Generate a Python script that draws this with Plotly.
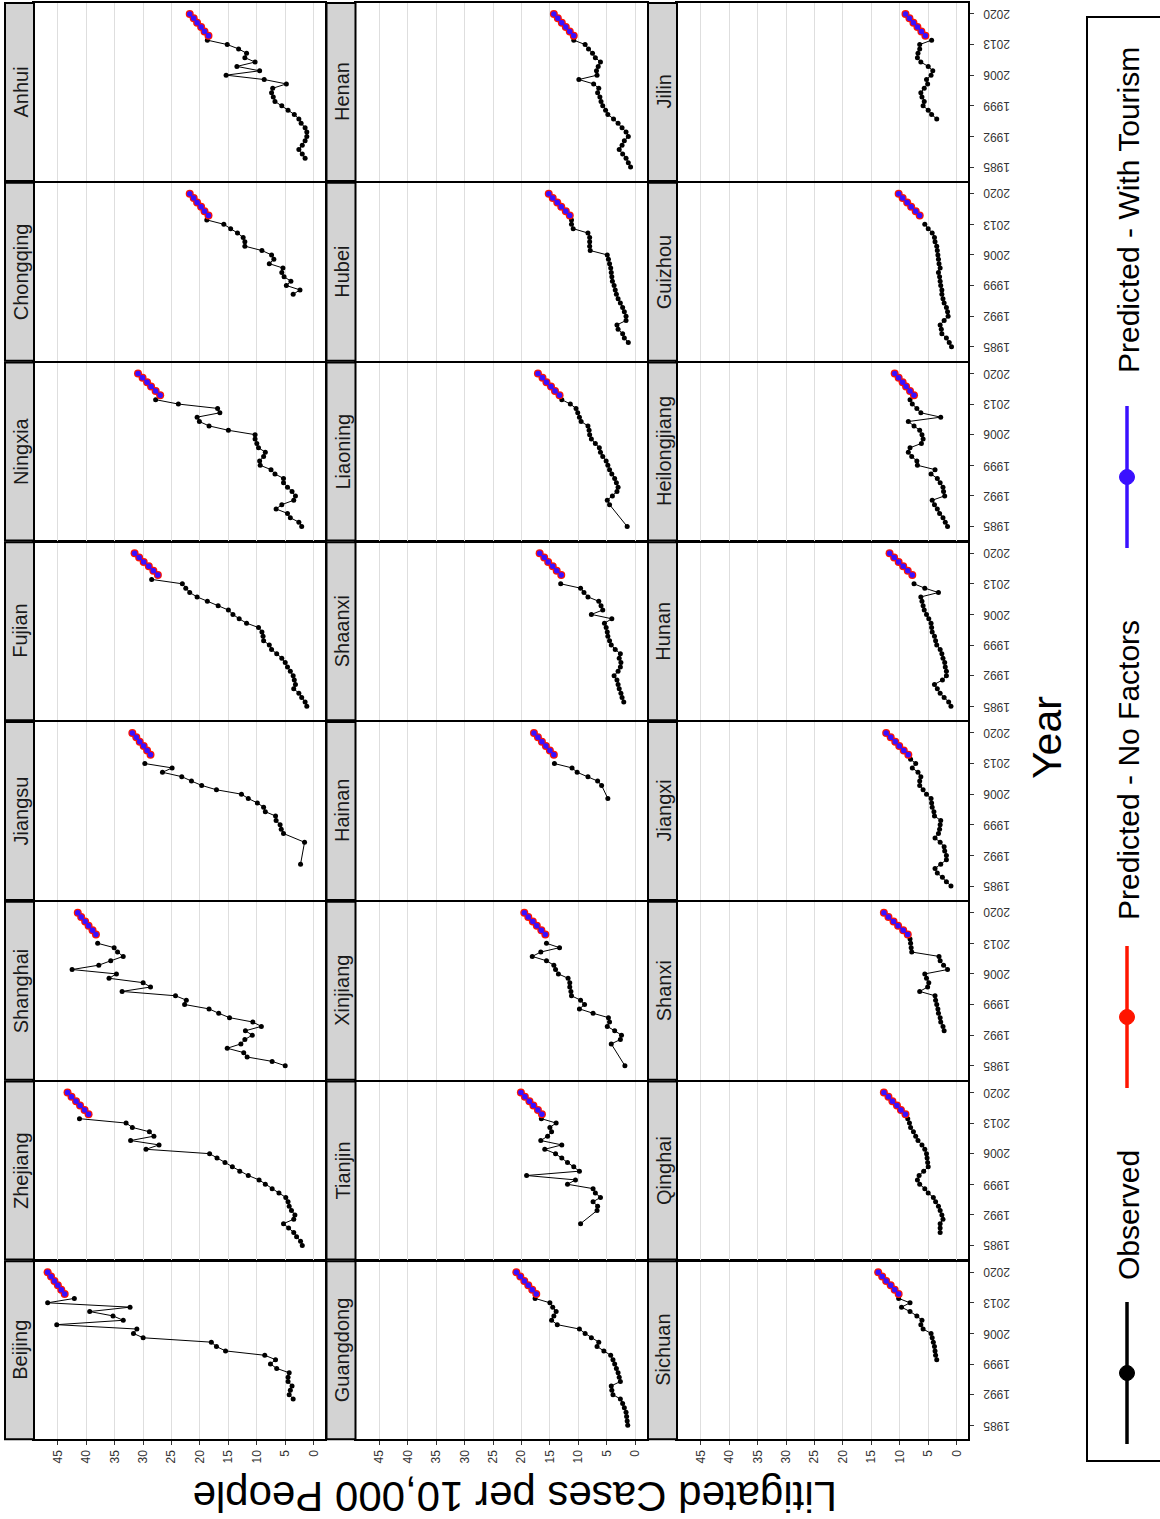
import plotly.graph_objects as go

# ---------------- data ----------------
PRED_YEARS = [2015, 2016, 2017, 2018, 2019, 2020]
YEAR_TICKS = [1985, 1992, 1999, 2006, 2013, 2020]
VALUE_TICKS = [0, 5, 10, 15, 20, 25, 30, 35, 40, 45]

FACETS = ["Beijing", "Zhejiang", "Shanghai", "Jiangsu", "Fujian", "Ningxia", "Chongqing", "Anhui",
          "Guangdong", "Tianjin", "Xinjiang", "Hainan", "Shaanxi", "Liaoning", "Hubei", "Henan",
          "Sichuan", "Qinghai", "Shanxi", "Jiangxi", "Hunan", "Heilongjiang", "Guizhou", "Jilin"]

beijing_years = list(range(1991, 2015))
beijing_obs = [3.6, 4.3, 4.1, 3.8, 4.5, 4.5, 4.3, 6.5, 7.6, 6.7, 8.6, 15.5, 17.1, 18.0, 30.0, 31.7,
               31.1, 45.2, 33.5, 35.3, 39.4, 32.3, 46.8, 42.1]
beijing_nf = [43.8, 44.4, 45.0, 45.6, 46.2, 46.8]
beijing_wt = [43.8, 44.4, 45.0, 45.6, 46.2, 46.8]

zhejiang_years = list(range(1985, 2015))
zhejiang_obs = [2.0, 2.3, 3.0, 3.5, 4.4, 5.3, 3.5, 3.3, 3.9, 4.3, 4.5, 4.9, 6.1, 7.3, 8.5, 9.6, 11.5,
                13.0, 14.3, 15.6, 17.0, 18.3, 29.5, 27.2, 32.2, 28.1, 28.9, 31.9, 33.0, 41.2]
zhejiang_nf = [39.6, 40.3, 41.1, 41.8, 42.6, 43.3]
zhejiang_wt = [39.6, 40.3, 41.1, 41.8, 42.6, 43.3]

shanghai_years = list(range(1985, 2014))
shanghai_obs = [5.0, 7.3, 11.7, 12.3, 15.2, 12.8, 12.1, 10.8, 12.0, 9.2, 10.7, 14.8, 16.7, 18.4, 22.7,
                22.4, 24.3, 33.7, 28.7, 30.0, 36.0, 34.7, 42.5, 37.8, 35.7, 33.5, 34.5, 35.1, 38.0]
shanghai_nf = [38.3, 38.9, 39.6, 40.2, 40.9, 41.5]
shanghai_wt = [38.3, 38.9, 39.6, 40.2, 40.9, 41.5]

jiangsu_years = [1990, 1995] + list(range(1997, 2014))
jiangsu_obs = [2.3, 1.6, 5.3, 5.7, 5.9, 6.6, 6.7, 8.5, 8.8, 9.9, 11.5, 12.7, 17.1, 19.7, 21.5, 23.2,
               26.6, 24.9, 29.7]
jiangsu_nf = [28.7, 29.3, 29.9, 30.6, 31.2, 31.9]
jiangsu_wt = [28.7, 29.3, 29.9, 30.6, 31.2, 31.9]

fujian_years = list(range(1985, 2015))
fujian_obs = [1.2, 1.5, 2.1, 2.6, 3.5, 3.2, 3.4, 3.6, 4.1, 4.6, 5.0, 5.6, 6.5, 7.4, 7.8, 8.8, 8.9,
              9.1, 9.7, 11.8, 13.1, 14.2, 15.0, 16.8, 18.7, 20.5, 21.8, 22.5, 23.1, 28.5]
fujian_nf = [27.4, 28.2, 29.0, 29.9, 30.7, 31.5]
fujian_wt = [27.4, 28.2, 29.0, 29.9, 30.7, 31.5]

ningxia_years = list(range(1985, 2015))
ningxia_obs = [2.1, 2.6, 4.1, 4.6, 6.6, 5.6, 3.5, 3.2, 3.8, 4.6, 5.3, 5.3, 6.8, 7.5, 9.4, 9.5, 8.8,
               8.5, 9.7, 10.0, 10.3, 10.3, 15.0, 18.4, 20.1, 20.5, 16.5, 16.9, 23.8, 27.8]
ningxia_nf = [27.0, 27.8, 28.6, 29.3, 30.1, 30.9]
ningxia_wt = [27.0, 27.8, 28.6, 29.3, 30.1, 30.9]

chongqing_years = list(range(1997, 2015))
chongqing_obs = [3.6, 2.4, 4.8, 4.0, 5.2, 5.6, 5.4, 7.8, 7.0, 7.4, 9.1, 12.1, 12.1, 12.4, 13.4, 14.6,
                 15.8, 18.8]
chongqing_nf = [18.5, 19.2, 19.8, 20.5, 21.1, 21.8]
chongqing_wt = [18.5, 19.2, 19.8, 20.5, 21.1, 21.8]

anhui_years = list(range(1987, 2015))
anhui_obs = [1.5, 2.0, 2.6, 2.0, 1.5, 1.2, 1.2, 1.5, 2.2, 2.6, 3.4, 4.5, 5.6, 6.8, 7.1, 7.4, 7.2,
             4.8, 8.7, 15.4, 9.5, 13.5, 10.3, 12.1, 11.8, 13.2, 15.2, 18.7]
anhui_nf = [18.5, 19.2, 19.8, 20.5, 21.1, 21.8]
anhui_wt = [18.5, 19.2, 19.8, 20.5, 21.1, 21.8]

guangdong_years = list(range(1985, 2015))
guangdong_obs = [1.3, 1.4, 1.5, 1.6, 1.9, 2.2, 2.6, 3.9, 4.1, 4.2, 2.6, 2.8, 3.0, 3.3, 3.6, 3.9, 4.3,
                 5.5, 6.7, 6.4, 7.7, 8.8, 9.8, 13.7, 14.7, 14.3, 13.9, 14.5, 15.0, 17.6]
guangdong_nf = [17.4, 18.1, 18.8, 19.5, 20.2, 20.9]
guangdong_wt = [17.4, 18.1, 18.8, 19.5, 20.2, 20.9]

tianjin_years = [1990] + list(range(1993, 2015))
tianjin_obs = [9.6, 6.7, 6.6, 7.4, 6.1, 7.0, 7.4, 11.9, 10.5, 19.1, 9.8, 10.8, 11.9, 12.9, 14.0, 15.9,
               12.9, 16.6, 15.4, 14.7, 15.0, 13.9, 16.5]
tianjin_nf = [16.4, 17.1, 17.9, 18.6, 19.4, 20.1]
tianjin_wt = [16.4, 17.1, 17.9, 18.6, 19.4, 20.1]

xinjiang_years = [1985] + list(range(1990, 2014))
xinjiang_obs = [1.8, 4.2, 2.6, 2.4, 3.6, 4.9, 4.5, 4.7, 7.4, 9.8, 8.9, 9.6, 11.2, 11.3, 11.5, 11.5,
                11.8, 13.5, 14.0, 14.3, 15.6, 18.1, 16.6, 13.3, 15.6]
xinjiang_nf = [15.8, 16.5, 17.3, 18.0, 18.8, 19.5]
xinjiang_wt = [15.8, 16.5, 17.3, 18.0, 18.8, 19.5]

hainan_years = [2005, 2008, 2009, 2010, 2011, 2012, 2013]
hainan_obs = [4.8, 5.9, 6.6, 8.3, 10.2, 11.1, 14.2]
hainan_nf = [14.3, 15.0, 15.7, 16.4, 17.1, 17.8]
hainan_wt = [14.3, 15.0, 15.7, 16.4, 17.1, 17.8]

shaanxi_years = list(range(1986, 2014))
shaanxi_obs = [2.0, 2.3, 2.5, 2.8, 3.0, 3.2, 3.7, 3.0, 2.6, 2.5, 2.8, 2.6, 3.5, 4.2, 4.5, 4.8, 4.9,
               5.1, 5.4, 4.1, 7.7, 5.7, 6.0, 6.4, 8.3, 9.0, 9.6, 13.1]
shaanxi_nf = [13.0, 13.8, 14.5, 15.3, 16.0, 16.8]
shaanxi_wt = [13.0, 13.8, 14.5, 15.3, 16.0, 16.8]

liaoning_years = [1985] + list(range(1990, 2015))
liaoning_obs = [1.4, 4.5, 4.9, 4.0, 3.2, 3.0, 3.3, 3.6, 4.1, 4.5, 4.8, 5.1, 5.7, 6.1, 6.3, 7.0, 7.7,
                8.0, 8.1, 8.3, 9.5, 9.8, 10.1, 10.4, 11.4, 12.9]
liaoning_nf = [13.3, 14.1, 14.8, 15.6, 16.3, 17.1]
liaoning_wt = [13.3, 14.1, 14.8, 15.6, 16.3, 17.1]

hubei_years = list(range(1986, 2015))
hubei_obs = [1.2, 1.9, 2.2, 3.0, 3.2, 1.6, 1.6, 1.9, 2.2, 2.6, 3.0, 3.3, 3.5, 3.7, 4.0, 4.1, 4.2,
             4.3, 4.5, 4.7, 4.9, 7.9, 8.0, 8.0, 8.0, 8.3, 10.9, 11.2, 11.2]
hubei_nf = [11.5, 12.2, 13.0, 13.7, 14.5, 15.2]
hubei_wt = [11.5, 12.2, 13.0, 13.7, 14.5, 15.2]

henan_years = list(range(1985, 2015))
henan_obs = [0.8, 1.2, 1.6, 2.2, 2.8, 2.3, 1.9, 1.2, 1.6, 2.3, 3.0, 3.8, 4.8, 5.2, 5.7, 6.0, 6.2,
             6.6, 6.4, 7.3, 9.9, 6.7, 6.8, 6.5, 6.1, 7.0, 7.5, 8.2, 8.8, 10.8]
henan_nf = [10.8, 11.5, 12.2, 12.9, 13.6, 14.3]
henan_wt = [10.8, 11.5, 12.2, 12.9, 13.6, 14.3]

sichuan_years = list(range(2000, 2015))
sichuan_obs = [3.5, 3.7, 3.8, 3.9, 4.1, 4.3, 4.5, 5.9, 6.3, 6.1, 7.0, 8.2, 9.7, 8.2, 10.2]
sichuan_nf = [10.2, 10.9, 11.6, 12.4, 13.1, 13.8]
sichuan_wt = [10.2, 10.9, 11.6, 12.4, 13.1, 13.8]

qinghai_years = list(range(1988, 2015))
qinghai_obs = [2.9, 2.9, 2.9, 2.4, 2.6, 2.9, 3.2, 3.7, 4.1, 5.0, 5.6, 6.5, 6.9, 6.6, 5.8, 5.0, 5.1,
               5.2, 5.3, 5.6, 6.1, 6.8, 7.2, 7.6, 8.1, 8.3, 8.6]
qinghai_nf = [9.0, 9.8, 10.5, 11.3, 12.0, 12.8]
qinghai_wt = [9.0, 9.8, 10.5, 11.3, 12.0, 12.8]

shanxi_years = list(range(1993, 2015))
shanxi_obs = [2.2, 2.4, 2.8, 2.9, 3.2, 3.3, 3.5, 3.7, 3.8, 6.5, 5.1, 4.9, 5.3, 5.6, 1.6, 2.3, 2.9,
              3.1, 7.9, 8.0, 8.1, 8.2]
shanxi_nf = [8.6, 9.4, 10.3, 11.1, 12.0, 12.8]
shanxi_wt = [8.6, 9.4, 10.3, 11.1, 12.0, 12.8]

jiangxi_years = list(range(1985, 2015))
jiangxi_obs = [1.0, 1.8, 2.5, 3.4, 3.8, 2.8, 1.8, 1.8, 2.1, 2.2, 2.9, 3.8, 3.2, 3.0, 2.9, 2.8, 3.9,
               4.0, 4.3, 4.4, 4.5, 5.3, 5.9, 6.5, 6.5, 6.3, 6.8, 7.8, 7.2, 8.1]
jiangxi_nf = [8.5, 9.3, 10.1, 10.8, 11.6, 12.4]
jiangxi_wt = [8.5, 9.3, 10.1, 10.8, 11.6, 12.4]

hunan_years = list(range(1985, 2014))
hunan_obs = [1.0, 1.4, 2.2, 2.9, 3.4, 3.9, 2.5, 1.8, 1.8, 2.0, 2.1, 2.4, 2.6, 2.9, 3.5, 3.7, 3.9,
             4.3, 4.4, 4.5, 4.9, 5.3, 5.7, 5.9, 6.1, 6.3, 3.2, 5.6, 7.5]
hunan_nf = [7.8, 8.6, 9.4, 10.2, 11.0, 11.8]
hunan_wt = [7.8, 8.6, 9.4, 10.2, 11.0, 11.8]

heilongjiang_years = list(range(1985, 2015))
heilongjiang_obs = [1.6, 2.0, 2.4, 3.0, 3.4, 3.9, 4.3, 2.1, 2.3, 2.4, 2.9, 3.4, 4.5, 3.8, 6.9, 7.0,
                    7.9, 8.5, 8.2, 6.2, 5.9, 6.1, 6.5, 7.5, 8.5, 2.8, 6.3, 7.0, 7.8, 8.2]
heilongjiang_nf = [7.5, 8.2, 8.9, 9.5, 10.2, 10.9]
heilongjiang_wt = [7.5, 8.2, 8.9, 9.5, 10.2, 10.9]

guizhou_years = list(range(1985, 2014))
guizhou_obs = [0.9, 1.3, 1.8, 2.6, 2.7, 2.9, 2.2, 1.5, 1.6, 1.8, 2.2, 2.4, 2.6, 2.6, 2.8, 2.9, 3.0,
               3.2, 2.9, 3.1, 3.2, 3.3, 3.4, 3.5, 3.8, 3.9, 4.3, 5.0, 5.6]
guizhou_nf = [6.5, 7.2, 8.0, 8.7, 9.5, 10.2]
guizhou_wt = [6.5, 7.2, 8.0, 8.7, 9.5, 10.2]

jilin_years = list(range(1996, 2015))
jilin_obs = [3.5, 4.4, 5.0, 5.9, 5.7, 6.1, 6.3, 5.7, 5.1, 5.3, 4.5, 4.2, 5.0, 6.3, 6.9, 6.8, 6.5,
             6.5, 4.4]
jilin_nf = [5.5, 6.2, 6.9, 7.6, 8.3, 9.0]
jilin_wt = [5.5, 6.2, 6.9, 7.6, 8.3, 9.0]

g = globals()
DATA = {n: (g[n.lower() + "_years"], g[n.lower() + "_obs"], g[n.lower() + "_nf"], g[n.lower() + "_wt"])
        for n in FACETS}

# ---------------- layout geometry (pixels) ----------------
W, H = 1160, 1519
def px(x): return x / W
def py(y): return 1 - y / H

COL_START = [5, 326.5, 648]
STRIP_W = 29
PANEL_W = 291
ROW_TOP0 = 3
ROW_STEP = 179.75
PANEL_H = 178

TXT = "#333333"
TICKFONT = dict(family="Liberation Sans, Arial, sans-serif", size=12, color=TXT)
STRIPFONT = dict(family="Liberation Sans, Arial, sans-serif", size=20, color="#1a1a1a")
RED = "#FF1500"
BLUE = "#3A10FF"

fig = go.Figure()
shapes = []
annotations = []
layout = {}

for i, name in enumerate(FACETS):
    col = i // 8
    row = 7 - i % 8
    yrs, obs, nf, wt = DATA[name]
    sx0 = COL_START[col]
    x0 = sx0 + STRIP_W
    x1 = x0 + PANEL_W
    y0 = ROW_TOP0 + ROW_STEP * row
    y1 = y0 + PANEL_H
    k = i + 1
    xid = "x" if k == 1 else f"x{k}"
    yid = "y" if k == 1 else f"y{k}"
    xkey = "xaxis" if k == 1 else f"xaxis{k}"
    ykey = "yaxis" if k == 1 else f"yaxis{k}"

    bottom = (row == 7)
    right = (col == 2)
    layout[xkey] = dict(
        domain=[px(x0), px(x1)], anchor=yid, range=[49.2, -2.0],
        tickvals=VALUE_TICKS, ticktext=[str(v) for v in VALUE_TICKS],
        showticklabels=bottom, ticks="outside" if bottom else "", ticklen=4, tickwidth=1,
        tickcolor=TXT, tickangle=-90, tickfont=TICKFONT,
        showgrid=True, gridcolor="#DEDEDE", gridwidth=1, zeroline=False,
        showline=True, mirror=True, linecolor="black", linewidth=2, fixedrange=True,
    )
    layout[ykey] = dict(
        domain=[py(y1), py(y0)], anchor=xid, range=[1981.8, 2022.5], side="right",
        tickvals=YEAR_TICKS, showticklabels=False,
        ticks="outside" if right else "", ticklen=4, tickwidth=1, tickcolor=TXT,
        showgrid=False, zeroline=False,
        showline=True, mirror=True, linecolor="black", linewidth=2, fixedrange=True,
    )

    fig.add_trace(go.Scatter(x=obs, y=yrs, xaxis=xid, yaxis=yid, mode="lines+markers",
                             line=dict(color="black", width=1), marker=dict(color="black", size=5),
                             showlegend=False, hoverinfo="skip"))
    fig.add_trace(go.Scatter(x=nf, y=PRED_YEARS, xaxis=xid, yaxis=yid, mode="lines+markers",
                             line=dict(color=RED, width=2.5), marker=dict(color=RED, size=8),
                             showlegend=False, hoverinfo="skip"))
    fig.add_trace(go.Scatter(x=wt, y=PRED_YEARS, xaxis=xid, yaxis=yid, mode="lines+markers",
                             line=dict(color=BLUE, width=1.5), marker=dict(color=BLUE, size=5.5),
                             showlegend=False, hoverinfo="skip"))

    # year tick labels (upside-down, outside the right edge of the last column)
    if right:
        for yr in YEAR_TICKS:
            annotations.append(dict(text=str(yr), xref="paper", yref=yid, x=px(997), y=yr,
                                    textangle=180, showarrow=False, font=TICKFONT,
                                    xanchor="center", yanchor="middle"))

    # strip
    shapes.append(dict(type="rect", xref="paper", yref="paper", x0=px(sx0), x1=px(sx0 + STRIP_W),
                       y0=py(y1), y1=py(y0), fillcolor="#D3D3D3", line=dict(color="black", width=2),
                       layer="above"))
    annotations.append(dict(text=name, xref="paper", yref="paper", x=px(sx0 + STRIP_W / 2 + 1),
                            y=py((y0 + y1) / 2), textangle=-90, showarrow=False, font=STRIPFONT,
                            xanchor="center", yanchor="middle"))

# axis titles
annotations.append(dict(text="Litigated Cases per 10,000 People", xref="paper", yref="paper",
                        x=px(515), y=py(1497), textangle=180, showarrow=False,
                        font=dict(family="Liberation Sans, Arial, sans-serif", size=42, color="black"),
                        xanchor="center", yanchor="middle"))
annotations.append(dict(text="Year", xref="paper", yref="paper", x=px(1047), y=py(738),
                        textangle=-90, showarrow=False,
                        font=dict(family="Liberation Sans, Arial, sans-serif", size=41, color="black"),
                        xanchor="center", yanchor="middle"))

# legend (drawn by hand because the figure is rotated)
shapes.append(dict(type="rect", xref="paper", yref="paper", x0=px(1087), x1=px(1175),
                   y0=py(1461), y1=py(17), line=dict(color="black", width=2), fillcolor="white",
                   layer="below"))
LEG_X = 1127
legend_items = [("Observed", "black", 1373, 1215),
                ("Predicted - No Factors", RED, 1017, 770),
                ("Predicted - With Tourism", BLUE, 477, 210)]
for label, colr, cy, ty in legend_items:
    shapes.append(dict(type="line", xref="paper", yref="paper", x0=px(LEG_X), x1=px(LEG_X),
                       y0=py(cy + 71), y1=py(cy - 71), line=dict(color=colr, width=3.5)))
    shapes.append(dict(type="circle", xref="paper", yref="paper", x0=px(LEG_X - 7.5),
                       x1=px(LEG_X + 7.5), y0=py(cy + 7.5), y1=py(cy - 7.5),
                       fillcolor=colr, line=dict(color=colr, width=1)))
    annotations.append(dict(text=label, xref="paper", yref="paper", x=px(LEG_X + 1), y=py(ty),
                            textangle=-90, showarrow=False,
                            font=dict(family="Liberation Sans, Arial, sans-serif", size=30,
                                      color="black"),
                            xanchor="center", yanchor="middle"))

fig.update_layout(
    width=W, height=H, autosize=False,
    margin=dict(l=0, r=0, t=0, b=0, pad=0),
    paper_bgcolor="white", plot_bgcolor="white",
    showlegend=False, shapes=shapes, annotations=annotations,
    **layout,
)

fig.write_html("out.html")
